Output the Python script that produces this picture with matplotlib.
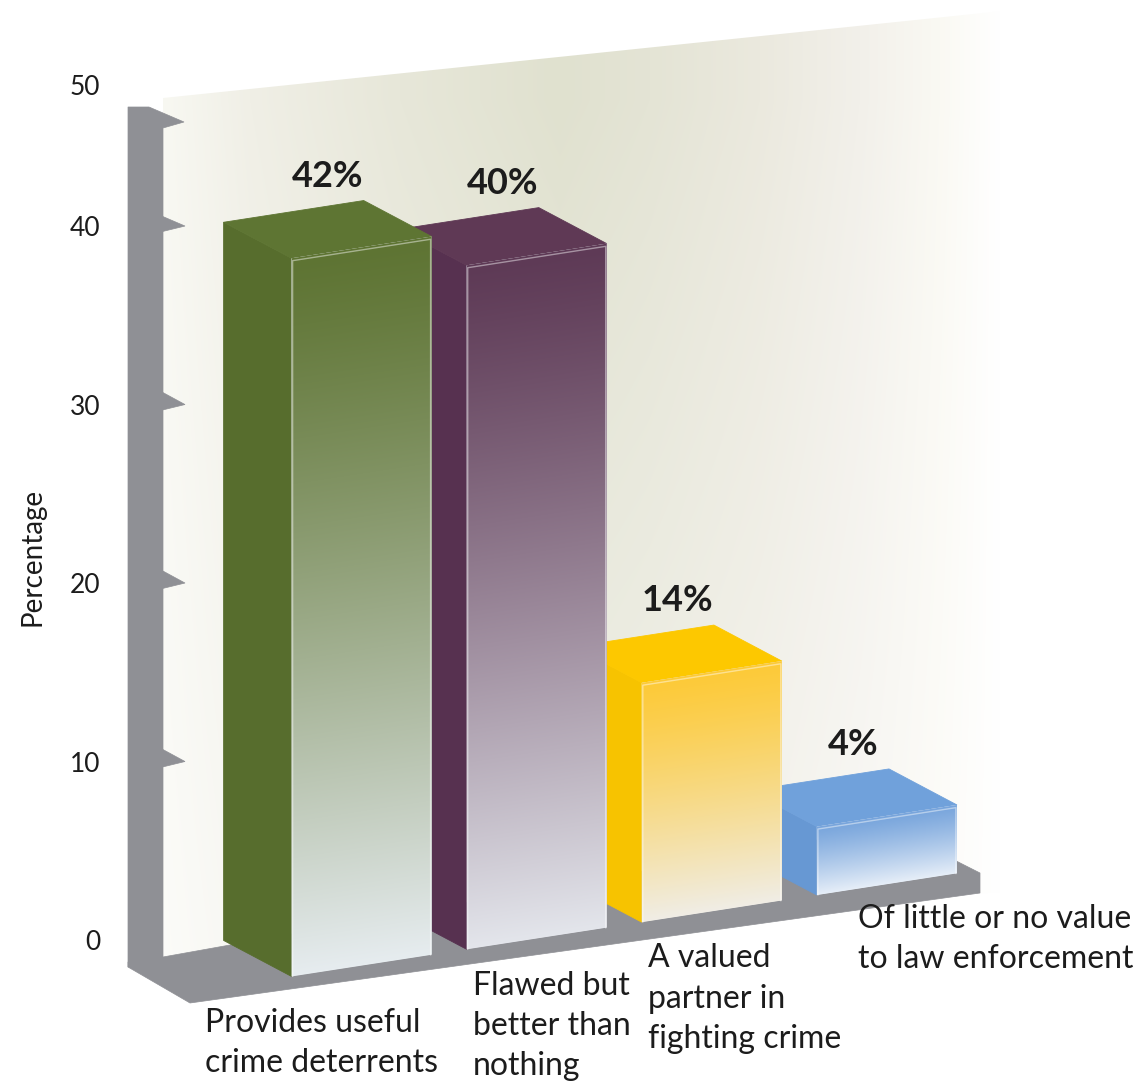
import numpy as np
import matplotlib
matplotlib.use("Agg")
import matplotlib.pyplot as plt
from matplotlib.patches import Polygon
from matplotlib.lines import Line2D
from matplotlib.transforms import Affine2D, blended_transform_factory
from matplotlib.colors import to_rgb
from matplotlib.ticker import NullLocator

# ---------------- data ----------------
categories = ["Provides useful\ncrime deterrents",
              "Flawed but\nbetter than\nnothing",
              "A valued\npartner in\nfighting crime",
              "Of little or no value\nto law enforcement"]
values = [42, 40, 14, 4]
value_labels = ["42%", "40%", "14%", "4%"]
y_ticks = [0, 10, 20, 30, 40, 50]
y_tick_labels = ["0", "10", "20", "30", "40", "50"]
y_label = "Percentage"

# ---------------- style ----------------
side_colors = ["#576d2d", "#573150", "#f7c300", "#6798d3"]
top_colors = ["#5e7533", "#5f3955", "#fdc800", "#70a1db"]
front_top = ["#5e7433", "#5e3a56", "#fdca38", "#78a5dc"]
front_bottom = ["#e6ecef", "#e3e5eb", "#f0ede5", "#e6eef8"]
GRAY = "#8f9095"
TEXT = "#1c1c1c"
FONT = "Lato"

W_PX, H_PX, DPI = 1147, 1084, 100
plt.rcParams["font.family"] = [FONT, "DejaVu Sans"]

fig = plt.figure(figsize=(W_PX / DPI, H_PX / DPI), dpi=DPI)
fig.patch.set_facecolor("white")

# pixel transform for decorative background pieces (x right, y down)
pix = Affine2D().scale(1, -1).translate(0, H_PX).scale(1 / DPI) + fig.dpi_scale_trans

# ---------------- main (bar) axes with oblique projection ----------------
X_ORIGIN, PITCH = 361.6, 175.1      # px of category 0, px per category
Y_ORIGIN, UNIT = 965.6, 17.1        # px of value 0, px per percent
SLOPE_K = 1.587                     # perspective rise (percent per category)
DX, DV = -0.388, 2.721              # depth vector (category units, percent)
BAR_W = 0.8

ax = fig.add_axes([0, 0, 1, 1])
ax.set_axis_off()
ax.set_autoscale_on(False)
XLIM = (-X_ORIGIN / PITCH, (W_PX - X_ORIGIN) / PITCH)
YLIM = ((Y_ORIGIN - H_PX) / UNIT, Y_ORIGIN / UNIT)
ax.set_xlim(*XLIM)
ax.set_ylim(*YLIM)
shear = Affine2D(np.array([[1.0, 0, 0], [SLOPE_K, 1.0, 0], [0, 0, 1.0]])) + ax.transData

# ---- back wall (gradient) ----
stops_x = [163, 250, 400, 560, 650, 760, 860, 940, 1000, 1147]
stops_c = ["#f8f8f2", "#f0efe6", "#e7e7d9", "#e0e1cf", "#e4e4d5",
           "#ebe9de", "#f2f0ea", "#faf9f3", "#ffffff", "#ffffff"]
xs = np.arange(W_PX) + 0.5
ys = np.arange(H_PX) + 0.5
hc = np.stack([np.interp(xs, stops_x, [to_rgb(c)[k] for c in stops_c]) for k in range(3)], axis=-1)
vf = np.interp(ys, [0, 100, 960], [1.0, 1.0, 0.5])
wall_img = 1 - (1 - hc[None, :, :]) * vf[:, None, None]
wall_poly = Polygon([(163, 98), (1147, -4), (1147, 880), (163, 960)], closed=True,
                    transform=pix, facecolor="none", edgecolor="none")
im = ax.imshow(wall_img, extent=(0, W_PX, H_PX, 0), origin="upper", transform=pix,
               aspect="auto", interpolation="bilinear", zorder=0)
im.set_clip_path(wall_poly)

# ---- floor and wall edge ----
ax.add_patch(Polygon([(128, 962), (163, 957), (889, 827), (980, 873), (980, 893),
                      (190, 1003), (128, 967)], closed=True, transform=pix,
                     facecolor=GRAY, edgecolor=GRAY, lw=0.5, zorder=1))
ax.add_patch(Polygon([(128, 107), (149, 107), (184, 122), (163, 128), (163, 958),
                      (128, 967)], closed=True, transform=pix,
                     facecolor=GRAY, edgecolor=GRAY, lw=0.5, zorder=2))

# ---- bars ----
n = 256
t = np.linspace(0, 1, n)          # 0 bottom -> 1 top
s = (1 - t) ** 1.2
for i in reversed(range(len(values))):
    v = values[i]
    xl, xr = i - BAR_W / 2, i + BAR_W / 2
    z = 10 + (len(values) - i) * 4
    ax.add_patch(Polygon([(xl, 0), (xl, v), (xl + DX, v + DV), (xl + DX, DV)], closed=True,
                         transform=shear, facecolor=side_colors[i], edgecolor=side_colors[i],
                         lw=0.6, zorder=z))
    ax.add_patch(Polygon([(xl, v), (xr, v), (xr + DX, v + DV), (xl + DX, v + DV)], closed=True,
                         transform=shear, facecolor=top_colors[i], edgecolor=top_colors[i],
                         lw=0.6, zorder=z + 1))
    c_top = np.array(to_rgb(front_top[i]))
    c_bot = np.array(to_rgb(front_bottom[i]))
    col = c_top[None, :] + (c_bot - c_top)[None, :] * s[:, None]
    rgba = np.concatenate([col, np.ones((n, 1))], axis=1)
    grad = np.repeat(rgba[:, None, :], 4, axis=1)
    front_poly = Polygon([(xl, 0), (xl, v), (xr, v), (xr, 0)], closed=True,
                         transform=shear, facecolor=front_bottom[i], edgecolor="none",
                         zorder=z + 1)
    ax.add_patch(front_poly)
    gim = ax.imshow(grad, extent=(xl, xr, 0, v), origin="lower", transform=shear,
                    aspect="auto", interpolation="bilinear", zorder=z + 1.5)
    gim.set_clip_path(front_poly)
    ax.add_line(Line2D([xl + 0.006, xl + 0.006, xr - 0.006, xr - 0.006],
                       [0, v - 0.15, v - 0.15, 0], transform=shear,
                       color="white", alpha=0.45, lw=1.0, zorder=z + 2))
    ax.annotate(value_labels[i], xy=(i + DX / 2, v + DV), xycoords=shear,
                xytext=(0, 9.5), textcoords="offset points", ha="center", va="bottom",
                fontsize=26, fontweight="bold", color=TEXT, zorder=40)

# ---- category labels ----
LABEL_DX = [-0.494, 0.036, 0.036, 0.235]
LABEL_V = [-1.06, -1.3, -1.3, -0.9]
for i, lab in enumerate(categories):
    ax.text(i - BAR_W / 2 + LABEL_DX[i], LABEL_V[i], lab, transform=shear,
            ha="left", va="top", fontsize=23, color=TEXT, linespacing=1.42, zorder=40)

ax.set_xlim(*XLIM)
ax.set_ylim(*YLIM)

# ---------------- y axis (on the wall edge) ----------------
def fwd(v):
    v = np.asarray(v, dtype=float)
    return np.where(v <= 40, v, 40 + (v - 40) * 0.79)

def inv(u):
    u = np.asarray(u, dtype=float)
    return np.where(u <= 40, u, 40 + (u - 40) / 0.79)

ax_y = fig.add_axes([128 / W_PX, 0, 35 / W_PX, 1])
ax_y.set_yscale("function", functions=(fwd, inv))
ax_y.set_ylim(-8.067, 56.03)
ax_y.set_xlim(0, 1)
ax_y.patch.set_visible(False)
for sp in ax_y.spines.values():
    sp.set_visible(False)
ax_y.set_xticks([])
ax_y.set_yticks(y_ticks, y_tick_labels)
ax_y.yaxis.set_minor_locator(NullLocator())
ax_y.tick_params(axis="y", length=0, pad=20, labelsize=19, labelcolor=TEXT)
ax_y.set_ylabel(y_label, fontsize=20, color=TEXT)
ax_y.yaxis.set_label_coords((46 - 128) / 35, (H_PX - 557) / H_PX)

ytrans = blended_transform_factory(pix, ax_y.transData)
for tv in y_ticks[1:-1]:
    ax_y.add_patch(Polygon([(163, tv + 0.67), (185, tv), (163, tv - 0.3)], closed=True,
                           transform=ytrans, facecolor=GRAY, edgecolor=GRAY, lw=0.5,
                           clip_on=False, zorder=3))

fig.savefig("out.png", dpi=DPI, facecolor="white")
